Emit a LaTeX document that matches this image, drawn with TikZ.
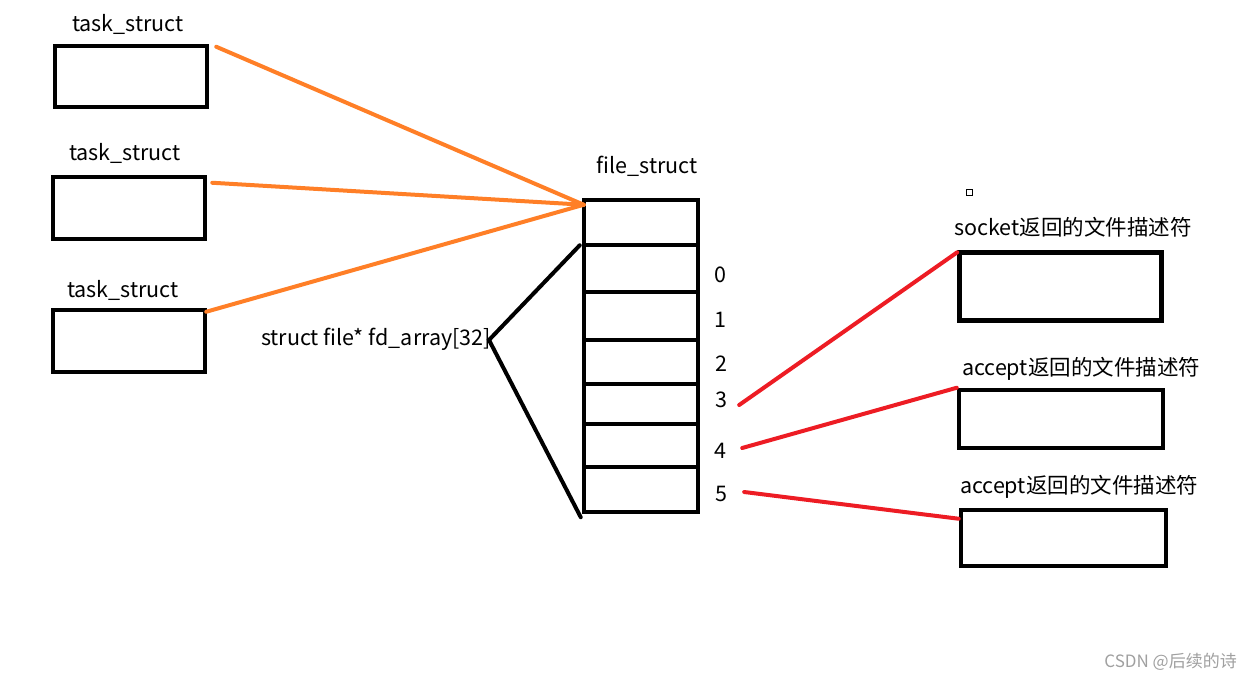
\documentclass[tikz,border=0pt]{standalone}
\usepackage{fontspec}
\setmainfont{Noto Sans CJK SC}
\usetikzlibrary{calc}
\definecolor{penorange}{HTML}{FF7F27}
\definecolor{penred}{HTML}{ED1C24}
\definecolor{markgrey}{HTML}{A0A0A0}
\begin{document}
\begin{tikzpicture}[x=1pt,y=-1pt,
  box/.style={draw=black,line width=4.5pt,inner sep=0pt,rectangle},
  cell/.style={box,minimum width=114pt},
  lbl/.style={inner sep=0pt,font=\fontsize{21.5}{24}\selectfont},
  idx/.style={inner sep=0pt,font=\fontsize{21.5}{24}\selectfont},
  orangeline/.style={draw=penorange,line width=4pt,line cap=round},
  redline/.style={draw=penred,line width=4pt,line cap=round},
  blackline/.style={draw=black,line width=4pt,line cap=round,line join=miter}]
\useasboundingbox (0,0) rectangle (1252,680);

% processes
\node[box,minimum width=152pt,minimum height=61pt] (t1) at (131,76.5) {};
\node[box,minimum width=152pt,minimum height=62pt] (t2) at (129,208) {};
\node[box,minimum width=152pt,minimum height=62pt] (t3) at (129,341) {};
\node[lbl] (t1l) at (128,24) {task\_struct};
\node[lbl] (t2l) at (125,153) {task\_struct};
\node[lbl] (t3l) at (123,290) {task\_struct};

% file_struct and its descriptor table
\node[lbl] (fsl) at (647,166) {file\_struct};
\node[cell,minimum height=45pt] (hd) at (641,222.5) {};
\node[cell,minimum height=47pt] (c0) at (641,268.5) {};
\node[cell,minimum height=48pt] (c1) at (641,316) {};
\node[cell,minimum height=44pt] (c2) at (641,362) {};
\node[cell,minimum height=40pt] (c3) at (641,404) {};
\node[cell,minimum height=43pt] (c4) at (641,445.5) {};
\node[cell,minimum height=45pt] (c5) at (641,489.5) {};
\node[idx] (i0) at (720,275) {0};
\node[idx] (i1) at (720,320) {1};
\node[idx] (i2) at (721,364) {2};
\node[idx] (i3) at (721,400) {3};
\node[idx] (i4) at (720,451) {4};
\node[idx] (i5) at (721,494) {5};

\node[lbl,anchor=east] (fda) at (491,339) {struct file* fd\_array[32]};

% open files
\node[box,minimum width=202pt,minimum height=68pt] (sk) at (1060.5,286.5) {};
\node[box,minimum width=204pt,minimum height=58pt] (a1) at (1061,419) {};
\node[box,minimum width=205pt,minimum height=56pt] (a2) at (1063.5,538) {};
\node[lbl] (skl) at (1073,227) {socket返回的文件描述符};
\node[lbl] (a1l) at (1081,369) {accept返回的文件描述符};
\node[lbl] (a2l) at (1079,487) {accept返回的文件描述符};
\node[draw=black,line width=1pt,minimum size=6pt,inner sep=0pt] (sq) at (969.5,192.5) {};

% pointers from the processes to the shared file_struct
\coordinate (hub) at ($(hd.north west)+(2,7)$);
\coordinate (p1) at ($(t1.north east)+(7,3)$);
\coordinate (p2) at ($(t2.north east)+(5,8)$);
\coordinate (p3) at ($(t3.north east)+(-1,4)$);
\draw[orangeline] (p1) -- (hub);
\draw[orangeline] (p2) -- (hub);
\draw[orangeline] (p3) -- (hub);

% the array brace
\coordinate (fx) at ($(fda.east)+(-2,1)$);
\draw[blackline] ($(hd.south west)+(-2,-2)$) -- (fx) -- ($(c5.south west)+(-1,3)$);

% descriptors 3, 4, 5
\coordinate (r3) at ($(i3.east)+(12,5)$);
\coordinate (r4) at ($(i4.east)+(16,-3)$);
\coordinate (r5) at ($(i5.east)+(17,-2)$);
\draw[redline] (r3) -- ($(sk.north west)+(0,2)$);
\draw[redline] (r4) -- ($(a1.north west)+(0,0)$);
\draw[redline] (r5) -- ($(a2.north west)+(0,11)$);

\node[inner sep=0pt,anchor=east,text=markgrey,font=\fontsize{17}{19}\selectfont] (wm) at (1237,662) {CSDN @后续的诗};
\end{tikzpicture}
\end{document}
